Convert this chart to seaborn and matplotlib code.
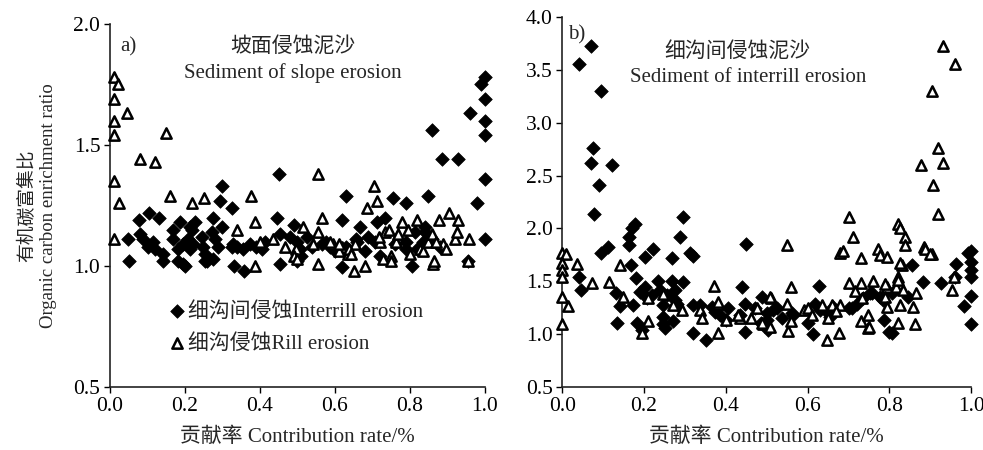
import numpy as np
import pandas as pd
import seaborn as sns
import matplotlib.pyplot as plt

# Panel a) slope erosion - interrill (diamonds)
a_inter_x = [1.0, 0.99, 1.0, 0.96, 1.0, 1.0, 0.86, 0.885, 0.93, 1.0, 0.98, 1.0, 0.85, 0.755, 0.79, 0.63,
             0.45, 0.30, 0.293, 0.325, 0.077, 0.104, 0.13, 0.445, 0.62, 0.49, 0.667, 0.733, 0.712, 0.688,
             0.66, 0.707, 0.79, 0.813, 0.84, 0.835, 0.82, 0.79, 0.84,
             0.05, 0.14, 0.195, 0.253, 0.33, 0.357, 0.453, 0.50, 0.62, 0.805, 0.955,
             0.047, 0.08, 0.088, 0.10, 0.115, 0.12, 0.14, 0.168, 0.187, 0.168, 0.18, 0.18, 0.2, 0.195,
             0.208, 0.213, 0.221, 0.219, 0.227, 0.213, 0.245, 0.248, 0.253, 0.275, 0.272, 0.28, 0.288,
             0.275, 0.259, 0.30, 0.325, 0.328, 0.34, 0.355, 0.373, 0.39, 0.405, 0.413, 0.453, 0.48,
             0.50, 0.507, 0.51, 0.525, 0.54, 0.565, 0.577, 0.587, 0.657, 0.60, 0.63, 0.68, 0.72, 0.76,
             0.86, 0.88]
a_inter_y = [1.78, 1.75, 1.69, 1.63, 1.60, 1.54, 1.56, 1.44, 1.44, 1.36, 1.26, 1.11, 1.29, 1.28, 1.26, 1.29,
             1.38, 1.33, 1.27, 1.24, 1.19, 1.22, 1.20, 1.20, 1.19, 1.17, 1.16, 1.20, 1.18, 1.12,
             1.10, 1.10, 1.10, 1.14, 1.14, 1.10, 1.07, 1.07, 1.16,
             1.02, 1.02, 1.01, 1.02, 1.00, 0.98, 1.01, 1.02, 0.995, 1.00, 1.02,
             1.11, 1.13, 1.11, 1.08, 1.10, 1.07, 1.05, 1.15, 1.18, 1.11, 1.07, 1.02, 1.00, 1.09,
             1.11, 1.07, 1.09, 1.15, 1.18, 1.16, 1.12, 1.08, 1.05, 1.20, 1.14, 1.11, 1.08,
             1.03, 1.02, 1.16, 1.08, 1.09, 1.08, 1.07, 1.09, 1.08, 1.07, 1.10, 1.13, 1.12,
             1.10, 1.07, 1.04, 1.12, 1.08, 1.09, 1.10, 1.08, 1.11, 1.06, 1.08, 1.06, 1.04, 1.09,
             1.11, 1.08]

# Panel a) slope erosion - rill (triangles)
a_rill_x = [0.01, 0.02, 0.01, 0.01, 0.01, 0.045, 0.15, 0.08, 0.12, 0.01, 0.025, 0.01, 0.16, 0.22, 0.25,
            0.375, 0.555, 0.387, 0.34, 0.565, 0.515, 0.467, 0.387, 0.555, 0.435, 0.705, 0.712, 0.685,
            0.905, 0.93, 0.877, 0.957, 0.955, 0.863, 0.68, 0.65, 0.78, 0.82, 0.795, 0.733, 0.765, 0.72,
            0.75, 0.73, 0.80, 0.827, 0.835, 0.888, 0.898, 0.92, 0.925, 0.62, 0.595, 0.635, 0.653, 0.61,
            0.543, 0.75, 0.865, 0.497, 0.49, 0.50, 0.587, 0.61, 0.637, 0.643, 0.555, 0.763, 0.77, 0.717,
            0.745, 0.85, 0.86, 0.87, 0.40]
a_rill_y = [1.78, 1.75, 1.69, 1.60, 1.54, 1.63, 1.55, 1.44, 1.43, 1.35, 1.26, 1.11, 1.29, 1.26, 1.28,
            1.29, 1.38, 1.18, 1.15, 1.20, 1.16, 1.08, 1.00, 1.01, 1.11, 1.33, 1.27, 1.24,
            1.22, 1.19, 1.19, 1.11, 1.02, 1.01, 1.00, 0.98, 1.18, 1.19, 1.15, 1.14, 1.12, 1.10,
            1.04, 1.03, 1.05, 1.07, 1.06, 1.09, 1.07, 1.11, 1.14, 1.08, 1.09, 1.05, 1.09, 1.06,
            1.09, 1.02, 1.02, 1.07, 1.04, 1.03, 1.10, 1.09, 1.07, 1.05, 1.14, 1.10, 1.13, 1.12,
            1.15, 1.10, 1.13, 1.10, 1.10]

# Panel b) interrill erosion - interrill (diamonds)
b_inter_x = [0.07, 0.04, 0.095, 0.075, 0.07, 0.122, 0.09, 0.077, 0.295, 0.178, 0.17, 0.288, 0.162, 0.162,
             0.113, 0.095, 0.223, 0.203, 0.313, 0.32, 0.268, 0.45, 0.168, 0.04, 0.046, 0.18, 0.235, 0.268,
             0.295, 0.44, 0.132, 0.19, 0.203, 0.24, 0.257, 0.276, 0.22, 0.276, 0.14, 0.173, 0.207, 0.247,
             0.28, 0.32, 0.337, 0.366, 0.405, 0.386, 0.447, 0.472, 0.488, 0.50, 0.525, 0.134, 0.183, 0.195,
             0.247, 0.25, 0.27, 0.247, 0.32, 0.352, 0.447, 0.435, 0.485, 0.503, 0.374, 0.40, 0.50, 0.565,
             0.60, 0.63, 0.65, 0.662, 0.614, 0.538, 0.562, 0.516, 0.619, 0.628, 0.655, 0.70, 0.72, 0.753,
             0.709, 0.736, 0.777, 0.785, 0.758, 0.807, 0.846, 0.787, 0.807, 0.80, 0.855, 0.883, 0.927,
             0.963, 1.0, 0.993, 1.0, 1.0, 1.0, 1.0, 0.983, 1.0, 0.96]
b_inter_y = [3.73, 3.56, 3.30, 2.76, 2.62, 2.60, 2.41, 2.14, 2.11, 2.04, 2.00, 1.92, 1.92, 1.84,
             1.82, 1.77, 1.81, 1.73, 1.77, 1.74, 1.72, 1.85, 1.65, 1.54, 1.42, 1.53, 1.50, 1.50,
             1.49, 1.45, 1.39, 1.40, 1.45, 1.42, 1.37, 1.42, 1.37, 1.32, 1.27, 1.28, 1.34, 1.28,
             1.29, 1.28, 1.28, 1.26, 1.25, 1.18, 1.29, 1.25, 1.35, 1.20, 1.25, 1.11, 1.11, 1.04,
             1.10, 1.06, 1.12, 1.16, 1.01, 0.94, 1.02, 1.18, 1.11, 1.04, 1.21, 1.13, 1.13, 1.18,
             1.11, 1.23, 1.20, 1.26, 1.00, 1.15, 1.20, 1.23, 1.29, 1.46, 1.16, 1.25, 1.29, 1.39,
             1.25, 1.34, 1.35, 1.32, 1.39, 1.39, 1.35, 1.13, 1.01, 1.02, 1.65, 1.49, 1.48,
             1.66, 1.79, 1.77, 1.68, 1.61, 1.54, 1.36, 1.27, 1.10, 1.54]

# Panel b) interrill erosion - rill (triangles)
b_rill_x = [0.0, 0.01, 0.0, 0.0, 0.0, 0.0, 0.0, 0.015, 0.037, 0.073, 0.115, 0.142, 0.149, 0.195, 0.21,
            0.21, 0.247, 0.27, 0.293, 0.37, 0.38, 0.337, 0.342, 0.38, 0.40, 0.435, 0.462, 0.51, 0.49,
            0.43, 0.477, 0.489, 0.508, 0.38,
            0.93, 0.96, 0.905, 0.92, 0.93, 0.878, 0.907, 0.92, 0.70, 0.82, 0.827, 0.71, 0.837, 0.837,
            0.55, 0.885, 0.905, 0.68, 0.687, 0.773, 0.777, 0.793, 0.73, 0.83, 0.958, 0.953, 0.56, 0.70,
            0.73, 0.76, 0.82, 0.793, 0.817, 0.834, 0.865, 0.717, 0.508, 0.55, 0.635, 0.59, 0.79, 0.827,
            0.858, 0.793, 0.73, 0.748, 0.748, 0.82, 0.863, 0.552, 0.647, 0.677, 0.68, 0.733, 0.66, 0.60,
            0.65, 0.61, 0.67, 0.56, 0.75, 0.82, 0.79, 0.826, 0.887, 0.90]
b_rill_y = [1.77, 1.76, 1.67, 1.61, 1.54, 1.35, 1.10, 1.27, 1.66, 1.48, 1.49, 1.65, 1.35, 1.01, 1.12,
            1.34, 1.38, 1.28, 1.23, 1.46, 1.29, 1.23, 1.15, 1.01, 1.13, 1.15, 1.15, 1.34, 1.10,
            1.18, 1.25, 1.11, 1.07, 1.30,
            3.73, 3.56, 3.30, 2.76, 2.62, 2.60, 2.41, 2.14, 2.11, 2.04, 2.00, 1.92, 1.92, 1.84,
            1.84, 1.82, 1.76, 1.77, 1.79, 1.81, 1.75, 1.73, 1.72, 1.65, 1.54, 1.42, 1.45, 1.48,
            1.48, 1.50, 1.54, 1.45, 1.45, 1.42, 1.39, 1.41, 1.35, 1.29, 1.28, 1.23, 1.35, 1.28,
            1.26, 1.26, 1.12, 1.18, 1.06, 1.11, 1.10, 1.03, 0.94, 1.01, 1.28, 1.34, 1.28, 1.25,
            1.15, 1.18, 1.22, 1.12, 1.07, 1.51, 1.47, 1.67, 1.81, 1.76]

x_ticks = [0.0, 0.2, 0.4, 0.6, 0.8, 1.0]
a_yticks = [0.5, 1.0, 1.5, 2.0]
b_yticks = [0.5, 1.0, 1.5, 2.0, 2.5, 3.0, 3.5, 4.0]

sns.set_style("ticks")
plt.rcParams['font.family'] = ['Liberation Serif', 'Noto Sans CJK SC']
fs = 15

fig = plt.figure(figsize=(9.83, 4.5), dpi=100)
ax1 = fig.add_axes([0.112, 0.14, 0.381, 0.807])
ax2 = fig.add_axes([0.572, 0.14, 0.416, 0.822])

dia = dict(marker="D", color="black", s=48, edgecolor="black", linewidth=0.5, clip_on=False)
tri = dict(marker="^", facecolor="white", edgecolor="black", s=55, linewidth=1.8, clip_on=False)

sns.scatterplot(x=a_inter_x, y=a_inter_y, ax=ax1, label="细沟间侵蚀Interrill erosion", zorder=3, **dia)
sns.scatterplot(x=a_rill_x, y=a_rill_y, ax=ax1, label="细沟侵蚀Rill erosion", zorder=3, **tri)
sns.scatterplot(x=b_inter_x, y=b_inter_y, ax=ax2, legend=False, zorder=3, **dia)
sns.scatterplot(x=b_rill_x, y=b_rill_y, ax=ax2, legend=False, zorder=3, **tri)

for ax, yt in [(ax1, a_yticks), (ax2, b_yticks)]:
    ax.set_xlim(0, 1.0)
    ax.set_ylim(yt[0], yt[-1])
    ax.set_xticks(x_ticks)
    ax.set_yticks(yt)
    ax.set_xticklabels([f"{v:.1f}" for v in x_ticks])
    ax.set_yticklabels([f"{v:.1f}" for v in yt])
    ax.tick_params(direction="out", length=4, width=1, colors="black", labelsize=15.5, pad=3)
    for sp in ["left", "bottom"]:
        ax.spines[sp].set_linewidth(1.2)
        ax.spines[sp].set_color("#222222")
    sns.despine(ax=ax)
    ax.set_xlabel("贡献率 Contribution rate/%", fontsize=fs, labelpad=8)

ax1.set_ylabel("有机碳富集比\nOrganic carbon enrichment ratio", fontsize=13.5, labelpad=12, linespacing=1.3)
ax2.set_ylabel("")

ax1.text(0.027, 0.937, "a)", transform=ax1.transAxes, fontsize=fs, va="center")
ax1.text(0.488, 0.937, "坡面侵蚀泥沙", transform=ax1.transAxes, fontsize=fs, ha="center", va="center")
ax1.text(0.488, 0.865, "Sediment of slope erosion", transform=ax1.transAxes, fontsize=fs,
         ha="center", va="center")
ax2.text(0.015, 0.951, "b)", transform=ax2.transAxes, fontsize=fs, va="center")
ax2.text(0.428, 0.905, "细沟间侵蚀泥沙", transform=ax2.transAxes, fontsize=fs, ha="center", va="center")
ax2.text(0.455, 0.838, "Sediment of interrill erosion", transform=ax2.transAxes, fontsize=fs,
         ha="center", va="center")

ax1.legend(loc="upper left", bbox_to_anchor=(0.134, 0.258), frameon=False, fontsize=fs,
           handlelength=0.8, handletextpad=0.15, labelspacing=0.6, borderaxespad=0)

fig.savefig("out.png", dpi=100)
